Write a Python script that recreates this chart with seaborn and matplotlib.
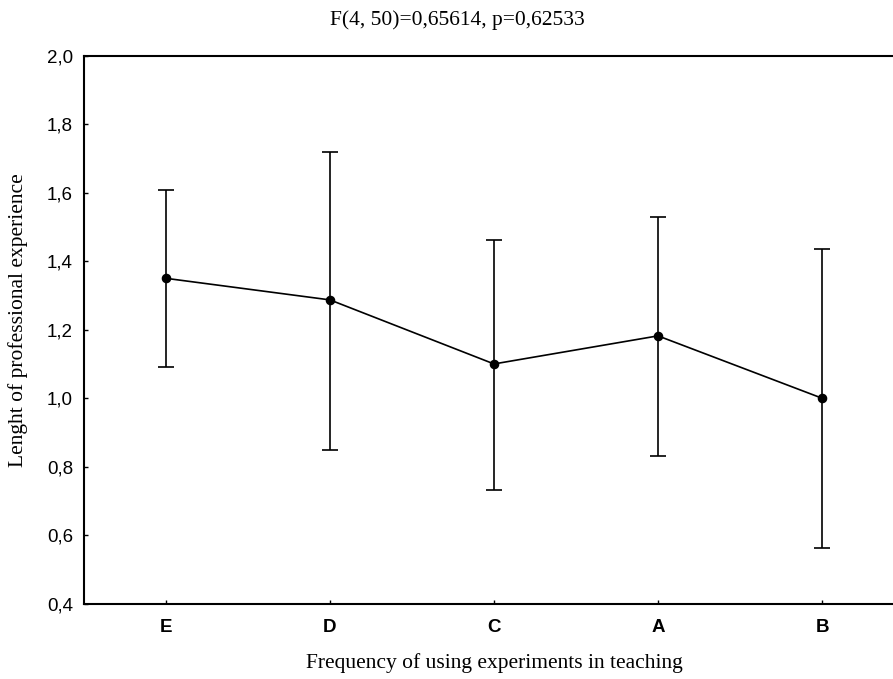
import matplotlib
matplotlib.use("Agg")
import matplotlib.pyplot as plt
import seaborn as sns
import pandas as pd
from matplotlib.ticker import FuncFormatter, MultipleLocator

categories = ["E", "D", "C", "A", "B"]
means = [1.350, 1.287, 1.100, 1.182, 1.000]
upper = [1.607, 1.719, 1.463, 1.528, 1.435]
lower = [1.090, 0.848, 0.733, 0.832, 0.563]

df = pd.DataFrame({"group": categories, "mean": means, "upper": upper, "lower": lower})

sns.set_theme(style="white")
plt.rcParams["font.family"] = ["Liberation Sans", "DejaVu Sans"]
plt.rcParams["text.color"] = "black"

fig = plt.figure(figsize=(8.93, 6.79), dpi=100)
ax = fig.add_axes([84/893, (679-603.7)/679, 1 - 84/893, (603.7-55.7)/679])

sns.pointplot(data=df, x="group", y="mean", order=categories, color="black",
              errorbar=None, markers="o", markersize=6, linewidth=1.2, ax=ax)
xs = list(range(len(categories)))
ax.errorbar(xs, df["mean"],
            yerr=[df["mean"] - df["lower"], df["upper"] - df["mean"]],
            fmt="none", ecolor="black", elinewidth=1.2, capsize=6, capthick=1.2)

ax.set_ylim(0.4, 2.0)
ax.set_xlim(-0.5, (893 - 166) / 164)
ax.yaxis.set_major_locator(MultipleLocator(0.2))
ax.yaxis.set_major_formatter(FuncFormatter(lambda v, p: f"{v:.1f}".replace(".", ",")))

for s in ["top", "left", "bottom"]:
    ax.spines[s].set_color("black")
    ax.spines[s].set_linewidth(1.5)
ax.spines["right"].set_visible(False)

ax.tick_params(axis="both", direction="in", length=3, width=1, colors="black",
               labelcolor="black", left=True, bottom=True, labelsize=13.5)
ax.tick_params(axis="x", pad=11)
ax.tick_params(axis="y", pad=8)
for lab in ax.get_xticklabels():
    lab.set_fontweight("bold")
ax.set_xlabel("")
ax.set_ylabel("")

fig.text(457/893, 1 - 20/679, "F(4, 50)=0,65614, p=0,62533", ha="center", va="center",
         fontsize=15.5, family="Liberation Serif", color="black")
fig.text(494/893, 1 - 663/679, "Frequency of using experiments in teaching", ha="center",
         va="center", fontsize=15.5, family="Liberation Serif", color="black")
fig.text(18/893, 1 - 320/679, "Lenght of professional experience", ha="center", va="center",
         rotation=90, fontsize=15.5, family="Liberation Serif", color="black")

fig.savefig("out.png", dpi=100, facecolor="white")
